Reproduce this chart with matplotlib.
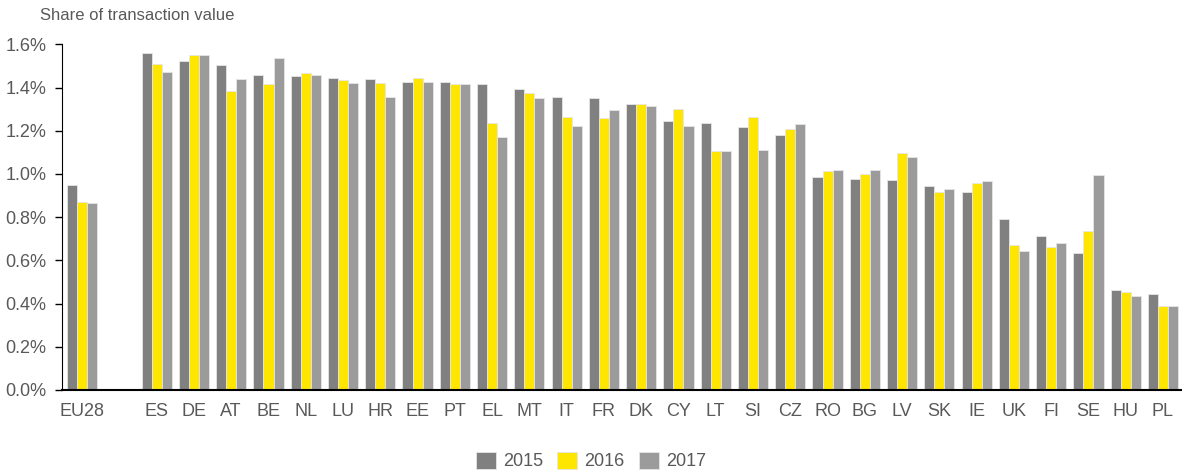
import matplotlib
matplotlib.use("Agg")
import matplotlib.pyplot as plt
from matplotlib.ticker import FuncFormatter, MultipleLocator
from matplotlib import font_manager
import numpy as np

countries = ["EU28", "ES", "DE", "AT", "BE", "NL", "LU", "HR", "EE", "PT", "EL", "MT", "IT",
             "FR", "DK", "CY", "LT", "SI", "CZ", "RO", "BG", "LV", "SK", "IE", "UK", "FI",
             "SE", "HU", "PL"]
y2015 = [0.95, 1.56, 1.525, 1.505, 1.46, 1.455, 1.445, 1.44, 1.425, 1.425, 1.415, 1.395, 1.355,
         1.35, 1.325, 1.245, 1.235, 1.215, 1.18, 0.985, 0.975, 0.97, 0.945, 0.915, 0.79, 0.715,
         0.635, 0.465, 0.445]
y2016 = [0.87, 1.51, 1.55, 1.385, 1.415, 1.465, 1.435, 1.42, 1.445, 1.415, 1.235, 1.375, 1.265,
         1.26, 1.325, 1.30, 1.105, 1.265, 1.21, 1.015, 1.00, 1.095, 0.915, 0.96, 0.67, 0.66,
         0.735, 0.455, 0.39]
y2017 = [0.865, 1.47, 1.55, 1.44, 1.535, 1.46, 1.42, 1.355, 1.425, 1.415, 1.17, 1.35, 1.22,
         1.295, 1.315, 1.22, 1.105, 1.11, 1.23, 1.02, 1.02, 1.08, 0.93, 0.965, 0.645, 0.68,
         0.995, 0.435, 0.39]
years = ["2015", "2016", "2017"]
colors = ["#808080", "#FFE600", "#9B9B9B"]

avail = {f.name for f in font_manager.fontManager.ttflist}
fam = [f for f in ["Liberation Sans Narrow", "Liberation Sans", "DejaVu Sans"] if f in avail]
plt.rcParams["font.family"] = fam

fig = plt.figure(figsize=(11.82, 4.74), dpi=100)
ax = fig.add_axes([62/1182, 1-390/474, 1-62/1182, (390-44.3)/474])

pos = np.array([0] + list(range(2, 2 + len(countries) - 1)), dtype=float)
w = 0.27
for i, (vals, c, lab) in enumerate(zip([y2015, y2016, y2017], colors, years)):
    ax.bar(pos + (i - 1) * w, vals, width=w, color=c, label=lab,
           edgecolor="#E6E6E6", linewidth=0.6, zorder=2)

ax.set_xlim(-0.54, 29.51)
ax.set_ylim(0, 1.6)
ax.yaxis.set_major_locator(MultipleLocator(0.2))
ax.yaxis.set_major_formatter(FuncFormatter(lambda v, p: f"{v:.1f}%"))
ax.set_xticks(pos)
ax.set_xticklabels(countries)
ax.tick_params(axis="x", length=0, pad=9, labelsize=13, labelcolor="#595959")
ax.tick_params(axis="y", length=5, width=1, direction="out", labelsize=13,
               labelcolor="#595959", color="black", pad=6)
for s in ["top", "right"]:
    ax.spines[s].set_visible(False)
ax.spines["left"].set_color("black")
ax.spines["bottom"].set_color("black")
ax.spines["bottom"].set_linewidth(1.5)

fig.text(40/1182, 1-16/474, "Share of transaction value", fontsize=12, color="#595959",
         va="center", ha="left")

handles, labels = ax.get_legend_handles_labels()
fig.legend(handles, labels, loc="center", bbox_to_anchor=(591/1182, 1-461/474), ncol=3,
           frameon=False, fontsize=13, handlelength=1.1, handleheight=1.1,
           handletextpad=0.4, columnspacing=0.8, labelcolor="#595959")

fig.savefig("out.png", dpi=100)
